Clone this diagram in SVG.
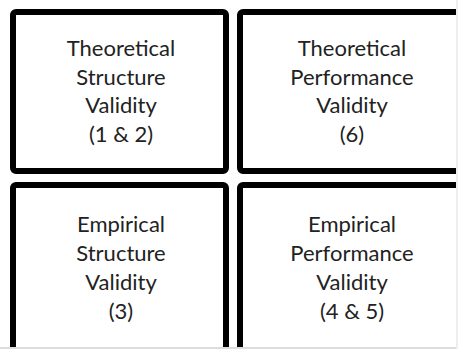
<svg xmlns="http://www.w3.org/2000/svg" width="458" height="349" viewBox="0 0 458 349">
<style>
.box{fill:#fff;stroke:#000;stroke-width:6}
.t{font-family:Lato,"Open Sans",sans-serif;font-size:22px;fill:#222;text-anchor:middle}
</style>
<rect width="458" height="349" fill="#fff"/>
<g id="theoretical-structure">
<rect class="box" x="13" y="12" width="213" height="159" rx="3"/>
<text class="t" x="121" y="56">Theoretical</text>
<text class="t" x="121" y="85">Structure</text>
<text class="t" x="121" y="113">Validity</text>
<text class="t" x="121" y="142">(1 &amp; 2)</text>
</g>
<g id="theoretical-performance">
<rect class="box" x="240" y="12" width="230" height="159" rx="3"/>
<text class="t" x="352" y="56">Theoretical</text>
<text class="t" x="352" y="85">Performance</text>
<text class="t" x="352" y="113">Validity</text>
<text class="t" x="352" y="142">(6)</text>
</g>
<g id="empirical-structure">
<rect class="box" x="13" y="185" width="213" height="180" rx="3"/>
<text class="t" x="121" y="232">Empirical</text>
<text class="t" x="121" y="261">Structure</text>
<text class="t" x="121" y="290">Validity</text>
<text class="t" x="121" y="319">(3)</text>
</g>
<g id="empirical-performance">
<rect class="box" x="240" y="185" width="230" height="180" rx="3"/>
<text class="t" x="352" y="232">Empirical</text>
<text class="t" x="352" y="261">Performance</text>
<text class="t" x="352" y="290">Validity</text>
<text class="t" x="352" y="319">(4 &amp; 5)</text>
</g>
<g id="connectors"></g>
<line x1="0" y1="348" x2="458" y2="348" stroke="#ddd" stroke-width="2"/>
<line x1="457" y1="0" x2="457" y2="349" stroke="#eee" stroke-width="2"/>
</svg>
